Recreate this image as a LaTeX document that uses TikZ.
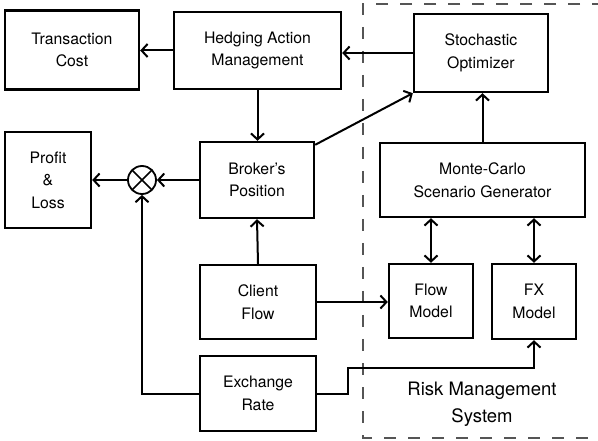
\documentclass[tikz,border=0pt]{standalone}
\usepackage{fontspec}
\setmainfont{TeX Gyre Heros}
\usepackage{tikz}
\usetikzlibrary{calc}
\usetikzlibrary{arrows.meta}
\usetikzlibrary{positioning}
\definecolor{frame}{RGB}{85, 85, 85}

\tikzset{
    block/.style={draw, line width=2.4pt, inner sep=0pt, align=center,
                  font=\fontsize{15.8}{22.5}\selectfont},
    link/.style={line width=2pt, -{Straight Barb[length=6pt, width=13pt, line width=2pt]}},
    duplex/.style={line width=2pt, {Straight Barb[length=6pt, width=13pt, line width=2pt]}-{Straight Barb[length=6pt, width=13pt, line width=2pt]}},
}

\begin{document}
\begin{tikzpicture}[x=1pt, y=-1pt]
            \useasboundingbox (0,0) rectangle (598,441);
            % Risk management frame
            \draw[frame, line width=1.3pt, dash pattern=on 12pt off 12pt] (700,4) -- (363,4) -- (363,438) -- (700,438);
            \node[font=\fontsize{18.5}{27}\selectfont, align=center] (rms) at (482,404) {Risk Management\\System};
            % Blocks
            \node[block, minimum width=134pt, minimum height=79pt] (tc)  at ( 72.0, 50.0) {Transaction\\Cost};
            \node[block, minimum width=167pt, minimum height=77pt] (ham) at (257.5, 50.5) {Hedging Action\\Management};
            \node[block, minimum width=134pt, minimum height=78pt] (so)  at (481.0, 53.0) {Stochastic\\Optimizer};
            \node[block, minimum width= 86pt, minimum height=96pt] (pl)  at ( 48.0,180.0) {Profit\\\&\\Loss};
            \node[block, minimum width=114pt, minimum height=76pt] (bp)  at (257.0,180.0) {Broker's\\Position};
            \node[block, minimum width=205pt, minimum height=74pt] (mc)  at (482.5,180.0) {Monte-Carlo\\Scenario Generator};
            \node[block, minimum width=116pt, minimum height=74pt] (cf)  at (258.0,302.0) {Client\\Flow};
            \node[block, minimum width= 84pt, minimum height=74pt] (fm)  at (431.0,301.0) {Flow\\Model};
            \node[block, minimum width= 84pt, minimum height=75pt] (fx)  at (534.0,301.5) {FX\\Model};
            \node[block, minimum width=116pt, minimum height=75pt] (er)  at (258.0,393.5) {Exchange\\Rate};
            % Multiplier
            \node[draw, circle, line width=1.8pt, minimum size=28pt, inner sep=0pt,
                  path picture={\draw[line width=1.5pt] (path picture bounding box.north west) -- (path picture bounding box.south east)
                                                        (path picture bounding box.north east) -- (path picture bounding box.south west);}]
                  (mult) at (142,180) {};
            % Connections
            \draw[link] (ham.west) -- (ham.west -| tc.east);
            \draw[link] (so.west) -- (so.west -| ham.east);
            \draw[link] (ham.south) -- (ham.south |- bp.north);
            \draw[link] ($(bp.north east)+(0,4)$) -- (so.south west);
            \draw[link] (mc.north) -- (mc.north |- so.south);
            \draw[link] (bp.west) -- (mult.east);
            \draw[link] (mult.west) -- (pl.east);
            \draw[link] (cf.north) -- (bp.south);
            \draw[link] (cf.east) -- (cf.east -| fm.west);
            \draw[duplex] (fm.north) -- (fm.north |- mc.south);
            \draw[duplex] (fx.north) -- (fx.north |- mc.south);
            \draw[link] (er.west) -| (mult.south);
            \coordinate (erbend) at (348,368);
            \draw[link] (er.east) -- (erbend |- er.east) -- (erbend) -| (fx.south);
\end{tikzpicture}
\end{document}
